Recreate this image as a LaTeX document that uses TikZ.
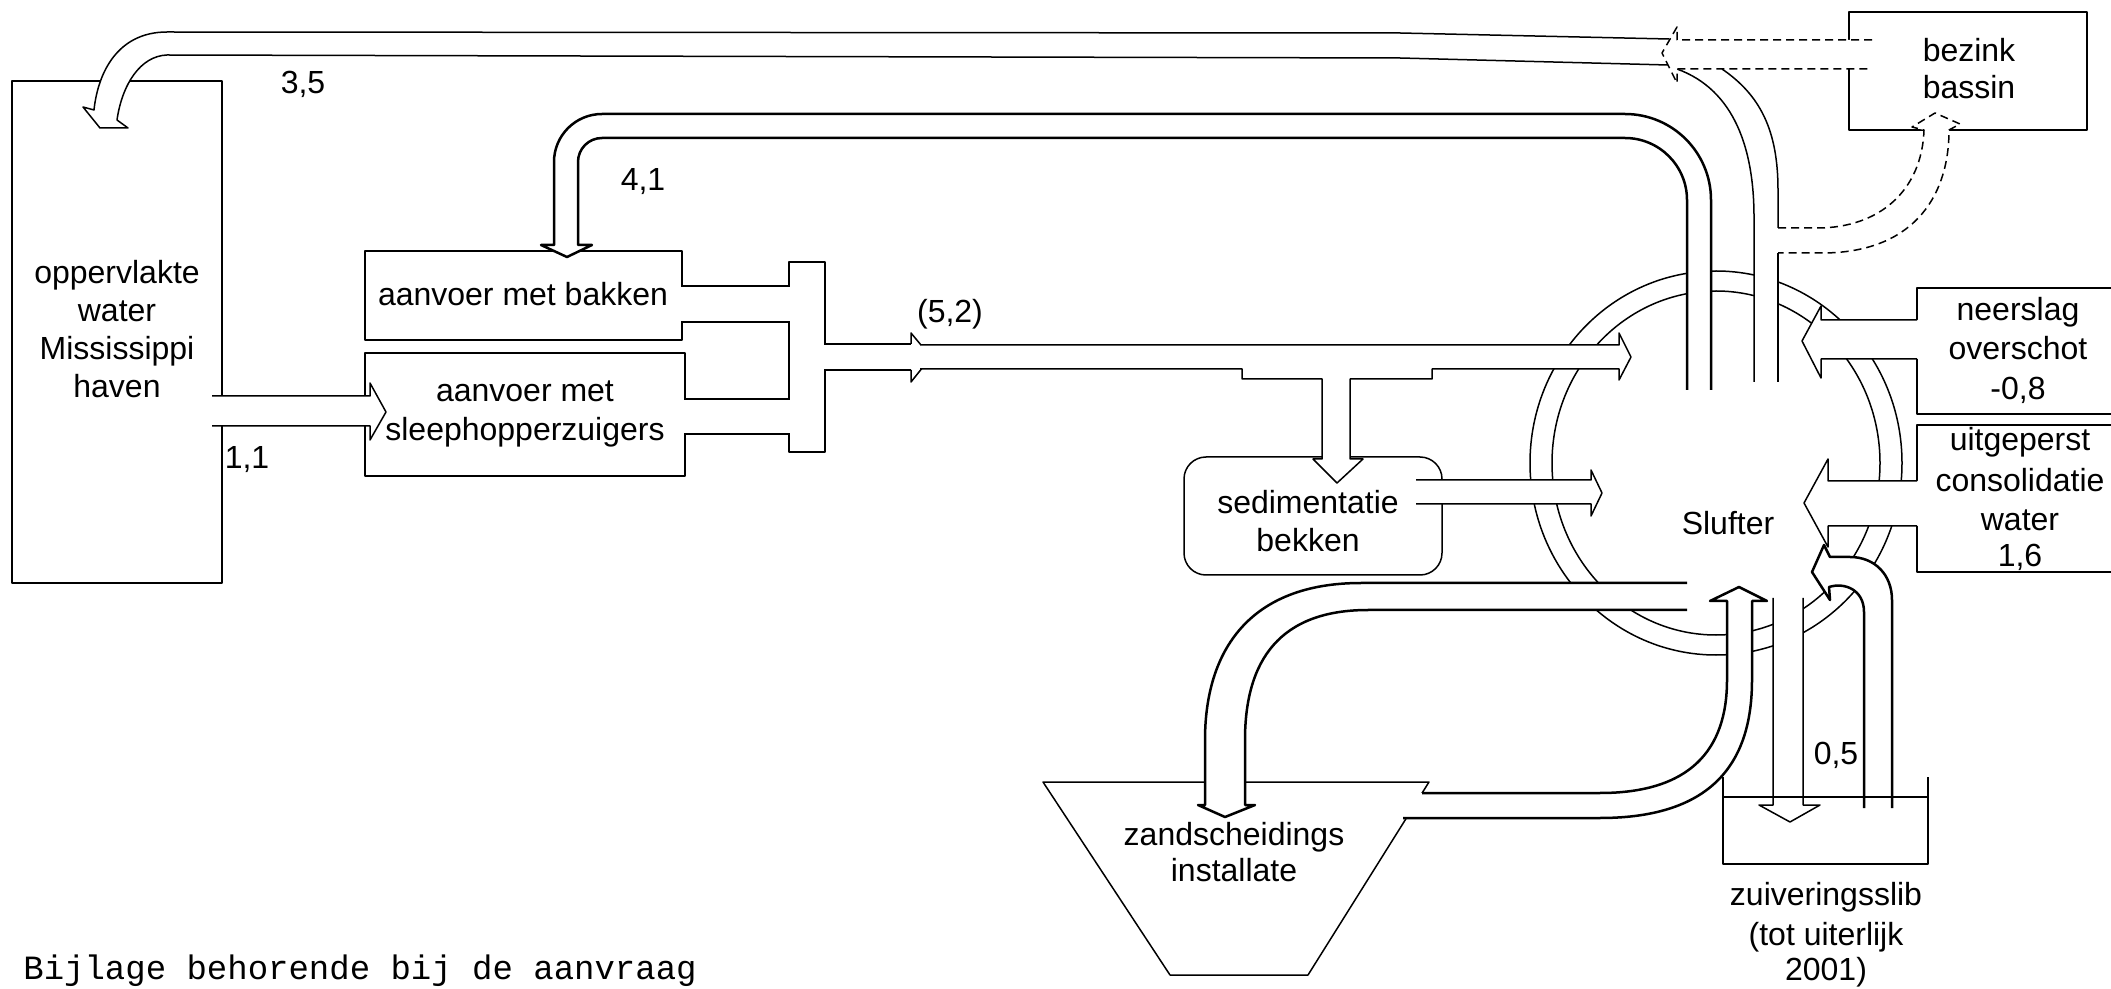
\documentclass[tikz,border=0pt]{standalone}
\usepackage{fontspec}
\setmainfont{Liberation Sans}
\newfontfamily\typewriter{Liberation Mono}
\begin{document}
\begin{tikzpicture}[x=0.5pt,y=-0.5pt,
  ln/.style={line width=0.75pt, line join=round},
  bl/.style={line width=1.25pt, line join=round},
  dsh/.style={dash pattern=on 4pt off 2.5pt},
  pf/.style={fill=white},
  box/.style={draw, ln, anchor=north west, inner sep=0pt, outer sep=0pt},
  txt/.style={font=\fontsize{16}{19.5}\selectfont, inner sep=0pt, text height=11.5pt, text depth=3.4pt, anchor=center},
]
\clip (0,0) rectangle (2111,989);
% Slufter ring
\draw[ln] (1716,463) ellipse [x radius=93pt, y radius=96pt];
\draw[ln] (1716,463) ellipse [x radius=82pt, y radius=86pt];
% boxes
\node[box, minimum width=105pt, minimum height=251pt] (lb) at (12,81) {};
\node[box, minimum width=158.5pt, minimum height=44.5pt] (bak) at (365,251) {};
\node[box, minimum width=160pt, minimum height=61.5pt] (slp) at (365,353) {};
\node[box, minimum width=18pt, minimum height=95pt] (mf) at (789,262) {};
\node[box, rounded corners=11pt, minimum width=129pt, minimum height=59pt] (sed) at (1184,457) {};
\node[box, minimum width=119pt, minimum height=59pt] (bez) at (1849,12) {};
\node[box, minimum width=120pt, minimum height=63pt] (nsl) at (1917,288) {};
\node[box, minimum width=120pt, minimum height=73.5pt] (cons) at (1917,425) {};
\draw[ln] (1043,782) -- (1429,782) -- (1308,975) -- (1170,975) -- cycle;
% 3,5 band back to the harbour
\path[pf] (1669,39) -- (1400,33) -- (167,32) .. controls (118,32) and (98,72) .. (94,110) -- (83,107) -- (100,128) -- (128,128) -- (117,120) .. controls (122,85) and (140,56) .. (167,55) -- (1400,58) -- (1668,65) -- cycle;
\draw[ln] (1669,39) -- (1400,33) -- (167,32) .. controls (118,32) and (98,72) .. (94,110) -- (83,107) -- (100,128) -- (128,128) -- (117,120) .. controls (122,85) and (140,56) .. (167,55) -- (1400,58) -- (1668,65);
% vertical 3,5 pipe out of the Slufter
\path[pf] (1677,69) .. controls (1735,90) and (1754,150) .. (1754,217) -- (1754,382) -- (1778,382) -- (1778,190) .. controls (1778,130) and (1760,95) .. (1722,69) -- cycle;
\draw[ln] (1677,69) .. controls (1735,90) and (1754,150) .. (1754,217) -- (1754,382);
\draw[ln] (1722,69) .. controls (1760,95) and (1778,130) .. (1778,190) -- (1778,228);
\draw[ln] (1778,253) -- (1778,382);
% dashed outflow of bezink bassin
\path[pf] (1874,40) -- (1677,40) -- (1677,27) -- (1662,53) -- (1677,83) -- (1677,69) -- (1874,69) -- cycle;
\draw[ln,dsh] (1872,40) -- (1677,40) -- (1677,27) -- (1662,53) -- (1677,83) -- (1677,69) -- (1872,69);
% dashed flow up into bezink bassin
\path[pf] (1780,228) -- (1817,228) .. controls (1880,228) and (1922,190) .. (1924,130) -- (1912,127) -- (1935,113) -- (1960,124) -- (1949,130) .. controls (1949,200) and (1910,253) .. (1822,253) -- (1780,253) -- cycle;
\draw[ln,dsh] (1778,228) -- (1817,228) .. controls (1880,228) and (1922,190) .. (1924,130) -- (1912,127) -- (1935,113) -- (1960,124) -- (1949,130) .. controls (1949,200) and (1910,253) .. (1822,253) -- (1778,253);
% 4,1 return pipe
\path[pf] (1711,390) -- (1711,200) .. controls (1711,152.5) and (1672.5,114) .. (1625,114) -- (602,114) .. controls (575.5,114) and (554,135.5) .. (554,162) -- (554,245) -- (541,245) -- (567,257) -- (592,245) -- (578,245) -- (578,162) .. controls (578,148.7) and (588.7,138) .. (602,138) -- (1625,138) .. controls (1659.2,138) and (1687,165.8) .. (1687,200) -- (1687,390) -- cycle;
\draw[bl] (1711,390) -- (1711,200) .. controls (1711,152.5) and (1672.5,114) .. (1625,114) -- (602,114) .. controls (575.5,114) and (554,135.5) .. (554,162) -- (554,245) -- (541,245) -- (567,257) -- (592,245) -- (578,245) -- (578,162) .. controls (578,148.7) and (588.7,138) .. (602,138) -- (1625,138) .. controls (1659.2,138) and (1687,165.8) .. (1687,200) -- (1687,390);
% 1,1 harbour -> sleephopperzuigers
\path[pf] (212,396) -- (370,396) -- (370,383) -- (386,412) -- (370,440) -- (370,426) -- (212,426) -- cycle;
\draw[ln] (212,396) -- (370,396) -- (370,383) -- (386,412) -- (370,440) -- (370,426) -- (212,426);
% pipes into the manifold
\path[pf] (680,287) rectangle (791,321);
\draw[ln] (682,286) -- (789,286) (682,322) -- (789,322);
\path[pf] (683,400) rectangle (791,433);
\draw[ln] (685,399) -- (789,399) (685,434) -- (789,434);
\path[pf] (823,345) rectangle (912,369);
\draw[ln] (825,344) -- (911,344) (825,370) -- (911,370);
\path[pf] (911,333) -- (931,357) -- (911,382) -- cycle;
\draw[ln] (911,344) -- (911,333) -- (931,357) -- (911,382) -- (911,370);
% 5,2 pipe to Slufter with branch to sedimentatie bekken
\path[pf] (921,345) -- (1619,345) -- (1619,333) -- (1631,357) -- (1619,380) -- (1619,369) -- (1432,369) -- (1432,379) -- (1350,379) -- (1350,459) -- (1363,459) -- (1337,483) -- (1313,459) -- (1322,459) -- (1322,379) -- (1242,379) -- (1242,369) -- (920,369) -- cycle;
\draw[ln] (921,345) -- (1619,345) -- (1619,333) -- (1631,357) -- (1619,380) -- (1619,369) -- (1432,369) -- (1432,379) -- (1350,379) -- (1350,459) -- (1363,459) -- (1337,483) -- (1313,459) -- (1322,459) -- (1322,379) -- (1242,379) -- (1242,369) -- (920,369);
% sedimentatie -> Slufter
\path[pf] (1416,480) -- (1591,480) -- (1591,470) -- (1602,493) -- (1591,516) -- (1591,504) -- (1416,504) -- cycle;
\draw[ln] (1416,480) -- (1591,480) -- (1591,470) -- (1602,493) -- (1591,516) -- (1591,504) -- (1416,504);
% neerslag
\path[pf] (1919,320) -- (1821,320) -- (1821,306) -- (1802,341) -- (1821,378) -- (1821,359) -- (1919,359) -- cycle;
\draw[ln] (1917,320) -- (1821,320) -- (1821,306) -- (1802,341) -- (1821,378) -- (1821,359) -- (1917,359);
% consolidatie water
\path[pf] (1919,481) -- (1828,481) -- (1828,459) -- (1804,503) -- (1828,547) -- (1828,526) -- (1919,526) -- cycle;
\draw[ln] (1917,481) -- (1828,481) -- (1828,459) -- (1804,503) -- (1828,547) -- (1828,526) -- (1917,526);
% Slufter -> zandscheiding
\path[pf] (1687,583) -- (1361,583) .. controls (1250,583) and (1205,650) .. (1205,740) -- (1205,805) -- (1198,805) -- (1225,817) -- (1255,805) -- (1245,805) -- (1245,740) .. controls (1245,660) and (1280,610) .. (1368,610) -- (1687,610) -- cycle;
\draw[bl] (1687,583) -- (1361,583) .. controls (1250,583) and (1205,650) .. (1205,740) -- (1205,805) -- (1198,805) -- (1225,817) -- (1255,805) -- (1245,805) -- (1245,740) .. controls (1245,660) and (1280,610) .. (1368,610) -- (1687,610);
% zandscheiding -> Slufter
\path[pf] (1415,793) -- (1600,793) .. controls (1690,793) and (1727,750) .. (1727,680) -- (1727,601) -- (1710,601) -- (1739,587) -- (1767,601) -- (1752,601) -- (1752,680) .. controls (1752,760) and (1715,818) .. (1600,818) -- (1396,818) -- cycle;
\draw[bl] (1422,793) -- (1600,793) .. controls (1690,793) and (1727,750) .. (1727,680) -- (1727,601) -- (1710,601) -- (1739,587) -- (1767,601) -- (1752,601) -- (1752,680) .. controls (1752,760) and (1715,818) .. (1600,818) -- (1403,818);
% Slufter -> zuiveringsslib
\path[pf] (1773,598) -- (1773,805) -- (1759,805) -- (1790,822) -- (1820,805) -- (1803,805) -- (1803,598) -- cycle;
\draw[ln] (1773,598) -- (1773,805) -- (1759,805) -- (1790,822) -- (1820,805) -- (1803,805) -- (1803,598);
% zuiveringsslib -> Slufter (hook)
\path[pf] (1892,808) -- (1892,600) .. controls (1892,575) and (1875,557) .. (1850,557) -- (1830,557) -- (1824,545) -- (1812,572) -- (1830,600) -- (1829,587) .. controls (1845,582) and (1864,590) .. (1864,612) -- (1864,808) -- cycle;
\draw[bl] (1892,808) -- (1892,600) .. controls (1892,575) and (1875,557) .. (1850,557) -- (1830,557) -- (1824,545) -- (1812,572) -- (1830,600) -- (1829,587) .. controls (1845,582) and (1864,590) .. (1864,612) -- (1864,808);
% zuiveringsslib tank
\draw[ln] (1723,777) -- (1723,864) -- (1928,864) -- (1928,777);
\draw[ln] (1723,797) -- (1928,797);
% texts
\node[txt] (lbt1) at (117,275) {oppervlakte};
\node[txt] (lbt2) at (117,313) {water};
\node[txt] (lbt3) at (117,351) {Mississippi};
\node[txt] (lbt4) at (117,389) {haven};
\node[txt] (v35) at (303,85) {3,5};
\node[txt] (v41) at (643,182) {4,1};
\node[txt] (bakt) at (523,297) {aanvoer met bakken};
\node[txt] (slpt1) at (525,393) {aanvoer met};
\node[txt] (slpt2) at (525,432) {sleephopperzuigers};
\node[txt] (v11) at (247,460) {1,1};
\node[txt] (v52) at (950,314) {(5,2)};
\node[txt] (sedt1) at (1308,505) {sedimentatie};
\node[txt] (sedt2) at (1308,543) {bekken};
\node[txt] (sluf) at (1728,526) {Slufter};
\node[txt] (nslt1) at (2018,312) {neerslag};
\node[txt] (nslt2) at (2018,351) {overschot};
\node[txt] (nslt3) at (2018,391) {-0,8};
\node[txt] (const1) at (2020,442) {uitgeperst};
\node[txt] (const2) at (2020,483) {consolidatie};
\node[txt] (const3) at (2020,522) {water};
\node[txt] (const4) at (2020,558) {1,6};
\node[txt] (bezt1) at (1969,53) {bezink};
\node[txt] (bezt2) at (1969,90) {bassin};
\node[txt] (zant1) at (1234,837) {zandscheidings};
\node[txt] (zant2) at (1234,873) {installate};
\node[txt] (zuit1) at (1826,897) {zuiveringsslib};
\node[txt] (zuit2) at (1826,937) {(tot uiterlijk};
\node[txt] (zuit3) at (1826,972) {2001)};
\node[txt] (v05) at (1836,756) {0,5};
\node[anchor=base west, inner sep=0pt, font=\typewriter\fontsize{17}{20}\selectfont] (bijlage) at (23,979) {Bijlage behorende bij de aanvraag};
\end{tikzpicture}
\end{document}
